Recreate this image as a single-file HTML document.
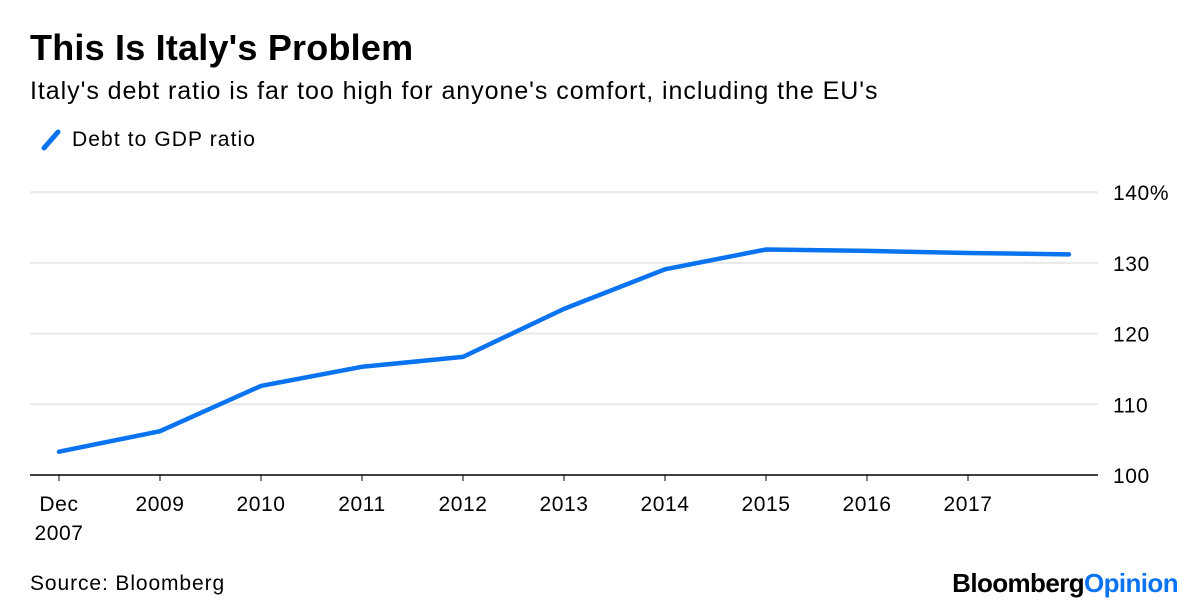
<!DOCTYPE html>
<html><head><meta charset="utf-8"><style>
body{margin:0;background:#fff;font-family:"Liberation Sans",sans-serif;}
#wrap{position:relative;width:1200px;height:612px;overflow:hidden;}
.t{position:absolute;white-space:nowrap;color:#000;}
</style></head><body>
<div id="wrap">
<div class="t" style="left:30px;top:27px;font-size:36px;font-weight:bold;letter-spacing:0.2px;">This Is Italy's Problem</div>
<div class="t" style="left:30px;top:77px;font-size:25px;letter-spacing:0.95px;">Italy's debt ratio is far too high for anyone's comfort, including the EU's</div>
<div style="position:absolute;left:40px;top:128px;">
<svg width="24" height="24" style="position:absolute;left:0;top:0"><line x1="4" y1="20" x2="18" y2="4" stroke="#0a74f0" stroke-width="5" stroke-linecap="round"/></svg>
<div class="t" style="left:32px;top:0;font-size:21px;letter-spacing:1.1px;">Debt to GDP ratio</div></div>
<svg id="chart" width="1200" height="612" style="position:absolute;left:0;top:0"></svg>
<div class="t" style="left:30px;top:572px;font-size:21px;letter-spacing:0.9px;">Source: Bloomberg</div>
<div class="t" style="right:22px;top:568px;font-size:26px;font-weight:bold;letter-spacing:-0.6px;">Bloomberg<span style="color:#0a74f0">Opinion</span></div>
</div>
<script>
const xLabels=["Dec|2007","2009","2010","2011","2012","2013","2014","2015","2016","2017"];
const years=[2007.95,2009,2010,2011,2012,2013,2014,2015,2016,2017,2018];
const values=[103.3,106.2,112.6,115.3,116.7,123.5,129.1,131.9,131.7,131.4,131.2];
const yTicks=[100,110,120,130,140];
const yTickLabels=["100","110","120","130","140%"];
const labelYears=[2007.95,2009,2010,2011,2012,2013,2014,2015,2016,2017];
const ns="http://www.w3.org/2000/svg";
const svg=document.getElementById('chart');
function x(v){return v<=2009 ? 59+(v-2007.95)/1.05*101 : 160+(v-2009)*101;}
function y(v){return 475-(v-100)*7.07;}
function el(t,a){const e=document.createElementNS(ns,t);for(const k in a)e.setAttribute(k,a[k]);svg.appendChild(e);return e;}
yTicks.forEach((t,i)=>{
 if(t>100){const g=el('line',{x1:30,x2:1098,y1:y(t),y2:y(t),stroke:'#e8e8e8','stroke-width':2});
 
 }
 const tx=el('text',{x:1113,y:y(t)+8,'font-size':21,'letter-spacing':0.6,'font-family':'Liberation Sans, sans-serif'});
 tx.textContent=yTickLabels[i];
 
 
});
const ax=el('line',{x1:30,x2:1098,y1:475,y2:475,stroke:'#000','stroke-width':1.5});


xLabels.forEach((l,i)=>{
 const xx=x(labelYears[i]);
 const tk=el('line',{x1:xx,x2:xx,y1:475,y2:481,stroke:'#000','stroke-width':1});
 
 
 l.split('|').forEach((p,j)=>{
  const tx=el('text',{x:xx,y:511+j*29,'font-size':21,'letter-spacing':0.6,'text-anchor':'middle','font-family':'Liberation Sans, sans-serif'});
  tx.textContent=p;
  
  
 });
});
const d=values.map((v,i)=>(i?'L':'M')+x(years[i]).toFixed(1)+','+y(v).toFixed(1)).join(' ');
const ln=el('path',{d:d,fill:'none',stroke:'#0a74f0','stroke-width':4.5,'stroke-linejoin':'round','stroke-linecap':'round'});


</script>
</body></html>
